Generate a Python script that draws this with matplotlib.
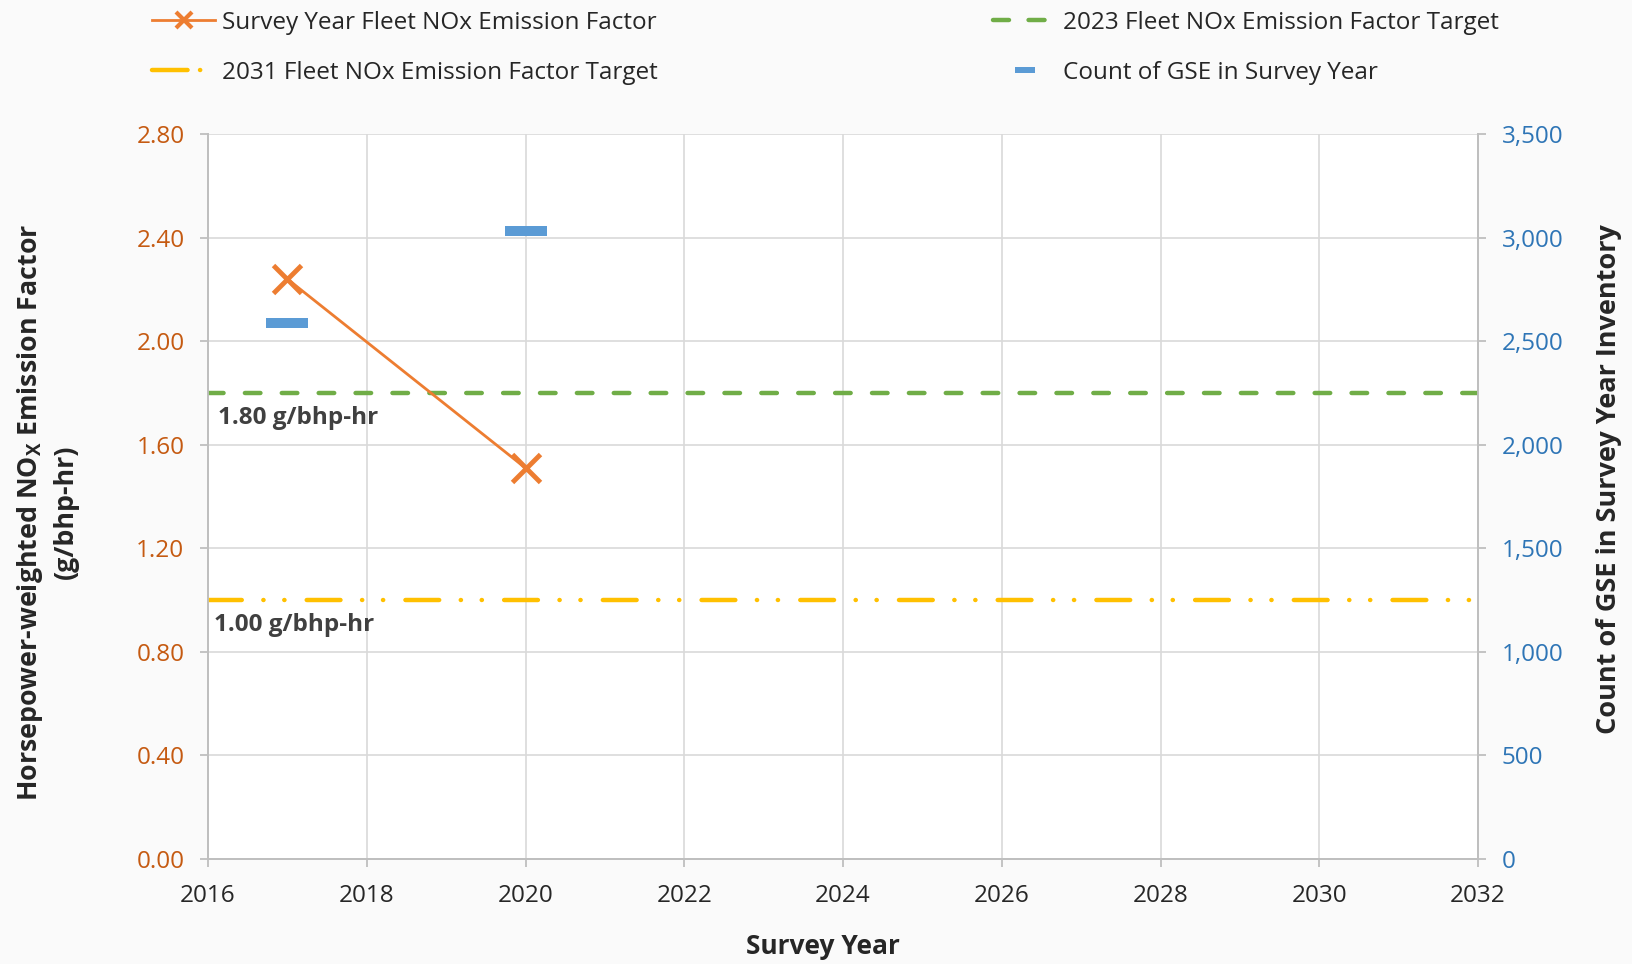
import matplotlib
matplotlib.use("Agg")
import matplotlib.pyplot as plt
from matplotlib.ticker import FuncFormatter
from matplotlib.lines import Line2D

plt.rcParams['font.family'] = ['Open Sans', 'DejaVu Sans']
plt.rcParams['mathtext.fontset'] = 'custom'
plt.rcParams['mathtext.rm'] = 'Open Sans'
plt.rcParams['mathtext.bf'] = 'Open Sans:bold'

# ---- data ----
survey_years = [2017, 2020]
nox_factor = [2.24, 1.51]
gse_count = [2590, 3030]
target_years = [2016, 2032]
target_2023 = [1.80, 1.80]
target_2031 = [1.00, 1.00]
x_ticks = list(range(2016, 2033, 2))
left_ticks = [0.0, 0.4, 0.8, 1.2, 1.6, 2.0, 2.4, 2.8]
right_ticks = [0, 500, 1000, 1500, 2000, 2500, 3000, 3500]
legend_labels = ['Survey Year Fleet NOx Emission Factor', '2031 Fleet NOx Emission Factor Target',
                 '2023 Fleet NOx Emission Factor Target', 'Count of GSE in Survey Year']

ORANGE = '#ED7D31'
GREEN = '#70AD47'
YELLOW = '#FFC000'
BLUE = '#5B9BD5'
LEFT_TICK = '#C55A11'
RIGHT_TICK = '#2E75B6'
GRID = '#D9D9D9'
DARK = '#262626'
TXT = '#404040'

W, H = 1633, 964
fig = plt.figure(figsize=(W / 100, H / 100), dpi=100, facecolor='#fafafa')
ax = fig.add_axes([208 / W, 1 - 859 / H, (1478 - 208) / W, (859 - 134) / H])
ax.set_facecolor('white')
ax2 = ax.twinx()

ax.set_xlim(2016, 2032)
ax.set_ylim(0, 2.8)
ax2.set_ylim(0, 3500)
ax.set_xticks(x_ticks)
ax.set_yticks(left_ticks)
ax2.set_yticks(right_ticks)
ax.yaxis.set_major_formatter(FuncFormatter(lambda v, p: f"{v:.2f}"))
ax2.yaxis.set_major_formatter(FuncFormatter(lambda v, p: f"{int(v):,}"))

ax.grid(True, color=GRID, linewidth=1.2, zorder=0)
ax.set_axisbelow(True)
for a in (ax, ax2):
    a.spines['top'].set_visible(False)
    for s in ('left', 'right', 'bottom'):
        a.spines[s].set_color('#BFBFBF')
        a.spines[s].set_linewidth(1.3)
ax.tick_params(axis='y', colors=LEFT_TICK, labelsize=17.5, length=6, width=1.3, color='#BFBFBF', pad=11)
ax.tick_params(axis='x', labelsize=17.5, length=6, width=1.3, color='#BFBFBF', pad=12, labelcolor=DARK)
ax2.tick_params(axis='y', colors=RIGHT_TICK, labelsize=17.5, length=6, width=1.3, color='#BFBFBF', pad=11)

GREEN_DASH = (0, (3.5, 4.8))
YELLOW_DASH = (0, (7.6, 4.85, 0.05, 4.66, 0.05, 5.0))

# target lines
ax.plot(target_years, target_2023, color=GREEN, linewidth=3.2,
        linestyle=GREEN_DASH, dash_capstyle='round', zorder=3)
ax.plot(target_years, target_2031, color=YELLOW, linewidth=3.2,
        linestyle=YELLOW_DASH, dash_capstyle='round', zorder=3)

# emission factor series
ax.plot(survey_years, nox_factor, color=ORANGE, linewidth=2,
        marker='x', markersize=20, markeredgewidth=3.5, zorder=5)

# count of GSE (horizontal bar markers)
bar_marker = [(-2, -0.5), (2, -0.5), (2, 0.5), (-2, 0.5), (-2, -0.5)]
ax2.plot(survey_years, gse_count, linestyle='none', marker=bar_marker,
         markersize=30, color=BLUE, markeredgewidth=0, zorder=4)

ax.text(2016.12, 1.80 - 0.05, '1.80 g/bhp-hr', fontsize=17.5, fontweight='bold',
        color=TXT, va='top', ha='left')
ax.text(2016.08, 1.00 - 0.05, '1.00 g/bhp-hr', fontsize=17.5, fontweight='bold',
        color=TXT, va='top', ha='left')

# axis labels
fig.text(823 / W, 1 - 947 / H, 'Survey Year', fontsize=19, fontweight='bold',
         color=DARK, ha='center', va='center')
fig.text(47 / W, 1 - 512 / H, 'Horsepower-weighted NO$_\\mathbf{X}$ Emission Factor\n(g/bhp-hr)',
         fontsize=19.3, fontweight='bold', color=DARK, ha='center', va='center',
         rotation=90, linespacing=1.35, multialignment='center')
fig.text(1609 / W, 1 - 479 / H, 'Count of GSE in Survey Year Inventory', fontsize=19.5,
         fontweight='bold', color=DARK, ha='center', va='center', rotation=90)

# legend (four single-entry legends placed like the reference)
h_orange = Line2D([], [], color=ORANGE, linewidth=2, marker='x', markersize=11, markeredgewidth=3)
h_yellow = Line2D([], [], color=YELLOW, linewidth=3.2, linestyle=(0, (8.0, 2.8, 0.05, 6)),
                  dash_capstyle='round')
h_green = Line2D([], [], color=GREEN, linewidth=3.2, linestyle=(0, (3.6, 4.4)), dash_capstyle='round')
h_blue = Line2D([], [], linestyle='none', marker=bar_marker, markersize=15, color=BLUE,
                markeredgewidth=0)

entries = [(h_orange, legend_labels[0], 152, 23),
           (h_yellow, legend_labels[1], 152, 73),
           (h_green, legend_labels[2], 993, 23),
           (h_blue, legend_labels[3], 993, 73)]
for h, lab, x0, yc in entries:
    fig.legend([h], [lab], loc='center left', bbox_to_anchor=(x0 / W, 1 - yc / H),
               frameon=False, fontsize=17.5, handlelength=2.6, handletextpad=0.3,
               borderpad=0, borderaxespad=0, labelcolor=DARK)

fig.savefig('out.png', dpi=100, facecolor=fig.get_facecolor())
